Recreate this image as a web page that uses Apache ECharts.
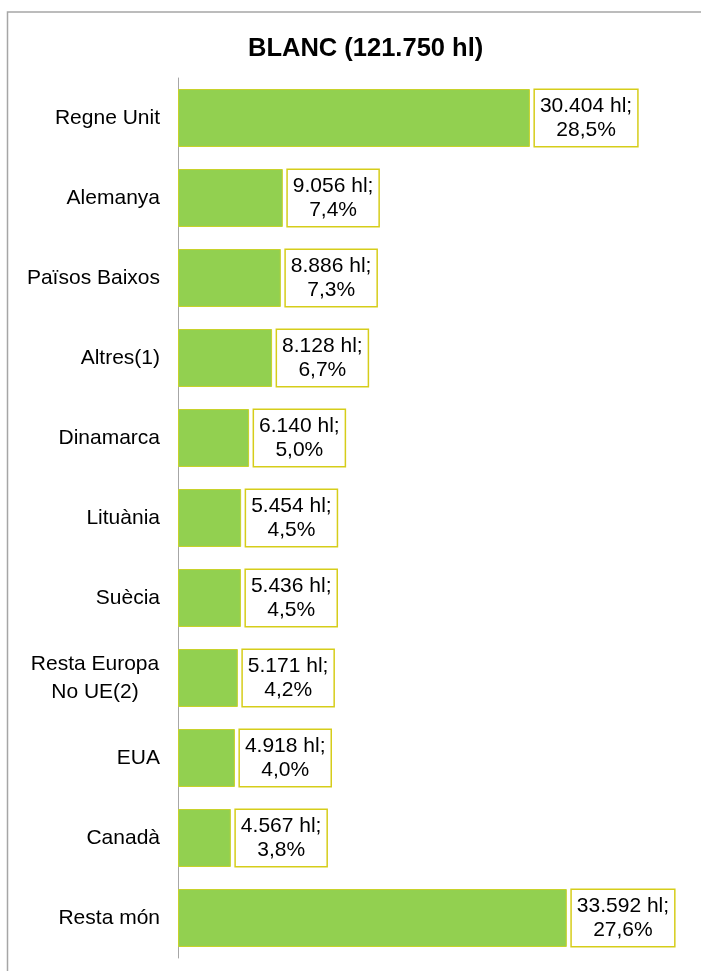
<!DOCTYPE html>
<html>
<head>
<meta charset="utf-8">
<script src="https://cdn.jsdelivr.net/npm/echarts@6/dist/echarts.min.js"></script>
<style>
  html, body { margin: 0; padding: 0; background: #fff; }
  #main { width: 701px; height: 971px; }
</style>
</head>
<body>
<div id="main"></div>
<script>
var titleText = 'BLANC (121.750 hl)';
var paisos = ['Regne Unit', 'Alemanya', 'Països Baixos', 'Altres(1)', 'Dinamarca', 'Lituània',
              'Suècia', 'Resta Europa\nNo UE(2)', 'EUA', 'Canadà', 'Resta món'];
var volums = [30404, 9056, 8886, 8128, 6140, 5454, 5436, 5171, 4918, 4567, 33592];
var percents = ['28,5', '7,4', '7,3', '6,7', '5,0', '4,5', '4,5', '4,2', '4,0', '3,8', '27,6'];

function formatHl(v) {
    // punt com a separador de milers
    return String(v).replace(/\B(?=(\d{3})+(?!\d))/g, '.');
}

var myChart = echarts.init(document.getElementById('main'));

var option = {
    backgroundColor: '#fff',
    animation: false,
    title: {
        text: titleText,
        left: 243,
        top: 31,
        textStyle: {
            fontFamily: 'Liberation Sans',
            fontWeight: 'bold',
            fontSize: 25.5,
            color: '#000'
        }
    },
    graphic: [{
        type: 'rect',
        shape: { x: 7.5, y: 12, width: 720, height: 990 },
        style: { fill: 'none', stroke: '#a6a6a6', lineWidth: 1.5 },
        silent: true
    }],
    grid: {
        left: 178,
        right: 60,
        top: 78,
        bottom: 13,
        containLabel: false,
        outerBoundsMode: 'none'
    },
    xAxis: {
        type: 'value',
        min: 0,
        max: 40000,
        interval: 10000,
        axisLine: { show: false },
        axisTick: { show: false },
        axisLabel: { show: false },
        splitLine: { show: false }
    },
    yAxis: {
        type: 'category',
        inverse: true,
        data: paisos,
        axisLine: { show: true, lineStyle: { color: '#a6a6a6', width: 1 } },
        axisTick: { show: false },
        axisLabel: {
            margin: 18,
            fontFamily: 'Liberation Sans',
            fontSize: 21,
            color: '#000',
            lineHeight: 28,
            formatter: function (v) {
                if (v.indexOf('\n') >= 0) {
                    return '{l|' + v + '}';
                }
                return v;
            },
            rich: {
                l: {
                    fontFamily: 'Liberation Sans',
                    fontSize: 21,
                    color: '#000',
                    lineHeight: 28,
                    width: 130,
                    align: 'center'
                }
            }
        }
    },
    series: [{
        type: 'bar',
        data: volums,
        barWidth: 58,
        itemStyle: {
            color: '#92d050',
            borderColor: '#c8d22a',
            borderWidth: 1
        },
        label: {
            show: true,
            position: 'right',
            distance: 5,
            color: '#000',
            backgroundColor: '#fff',
            borderColor: '#d6cd1a',
            borderWidth: 1.5,
            padding: [4, 5],
            formatter: function (p) {
                return '{t|' + formatHl(p.value) + ' hl;}\n{t|' + percents[p.dataIndex] + '%}';
            },
            rich: {
                t: {
                    fontFamily: 'Liberation Sans',
                    fontSize: 21,
                    lineHeight: 24,
                    color: '#000',
                    align: 'center'
                }
            }
        }
    }]
};

myChart.setOption(option);
</script>
</body>
</html>
